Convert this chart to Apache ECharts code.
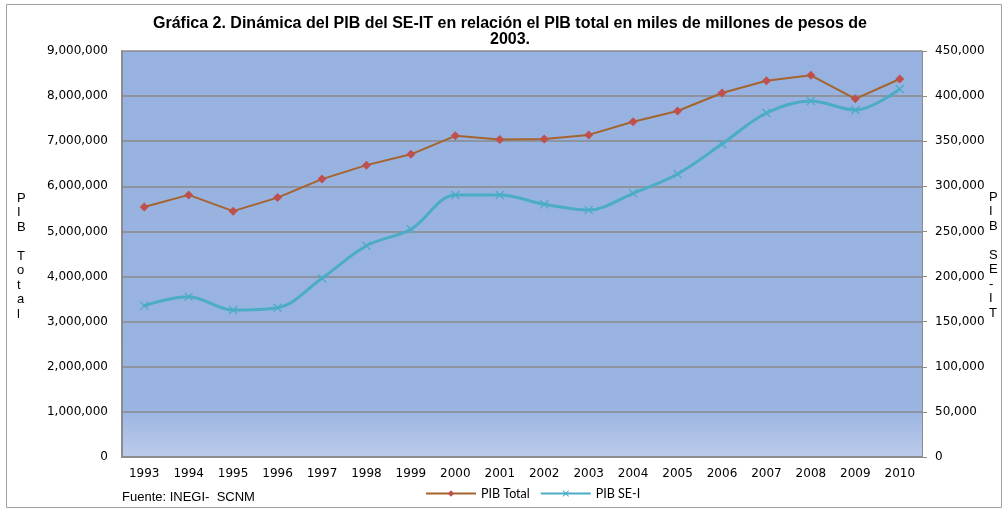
<!DOCTYPE html>
<html>
<head>
<meta charset="utf-8">
<script src="https://cdn.jsdelivr.net/npm/echarts@6/dist/echarts.min.js"></script>
<style>
  html, body { margin: 0; padding: 0; background: #fff; }
  #main { width: 1006px; height: 512px; }
</style>
</head>
<body>
<div id="main"></div>
<script>
// datos
var years = ['1993', '1994', '1995', '1996', '1997', '1998', '1999', '2000', '2001',
  '2002', '2003', '2004', '2005', '2006', '2007', '2008', '2009', '2010'];
var pibTotal = [5540000, 5810000, 5450000, 5750000, 6160000, 6470000, 6710000, 7120000, 7040000,
  7050000, 7140000, 7430000, 7670000, 8070000, 8340000, 8460000, 7940000, 8380000];
var pibSEIT = [167700, 177700, 162900, 165500, 198100, 234200, 252400, 290400, 290400,
  280100, 273800, 292300, 313700, 346900, 381300, 394600, 384600, 407900];

var chart = echarts.init(document.getElementById('main'));

function fmt(v) {
  return v.toLocaleString('en-US');
}

var xMark = 'path://M0,1L1,0L5,4L9,0L10,1L6,5L10,9L9,10L5,6L1,10L0,9L4,5Z';

var option = {
  animation: false,
  backgroundColor: '#fff',
  title: {
    text: 'Gráfica 2. Dinámica del PIB del SE-IT en relación el PIB total en miles de millones de pesos de\n2003.',
    left: 505,
    textAlign: 'center',
    top: 11,
    textStyle: {
      fontFamily: 'Liberation Sans',
      fontSize: 16,
      fontWeight: 'bold',
      color: '#000',
      lineHeight: 16
    }
  },
  grid: {
    left: 122,
    right: 84,
    top: 51,
    bottom: 55,
    show: true,
    borderWidth: 0,
    backgroundColor: {
      type: 'linear', x: 0, y: 0, x2: 0, y2: 1,
      colorStops: [
        { offset: 0, color: '#97b2e0' },
        { offset: 0.88, color: '#9ab4e1' },
        { offset: 1, color: '#bccbea' }
      ]
    }
  },
  legend: {
    data: ['PIB Total', 'PIB SE-I'],
    left: 420,
    top: 482,
    itemWidth: 50,
    itemHeight: 8,
    itemGap: 10,
    textStyle: { fontFamily: 'Lato', fontSize: 12.5, color: '#000' }
  },
  xAxis: {
    type: 'category',
    data: years,
    boundaryGap: true,
    axisLine: { lineStyle: { color: '#8c8c8c', width: 2 } },
    axisTick: { show: false },
    axisLabel: { color: '#000', fontFamily: 'DejaVu Sans', fontSize: 12, margin: 11 }
  },
  yAxis: [{
    type: 'value',
    min: 0,
    max: 9000000,
    interval: 1000000,
    axisLine: { show: true, lineStyle: { color: '#8c8c8c', width: 2 } },
    axisTick: { show: false },
    splitLine: { lineStyle: { color: '#8a8a8a', width: 1.5 } },
    axisLabel: { color: '#000', fontFamily: 'DejaVu Sans', fontSize: 12, margin: 14, formatter: fmt }
  }, {
    type: 'value',
    min: 0,
    max: 450000,
    interval: 50000,
    position: 'right',
    axisLine: { show: true, lineStyle: { color: '#8c8c8c', width: 1 } },
    axisTick: { show: true, length: 5, lineStyle: { color: '#8c8c8c' } },
    splitLine: { show: false },
    axisLabel: { color: '#000', fontFamily: 'DejaVu Sans', fontSize: 12, margin: 13, formatter: fmt }
  }],
  series: [{
    name: 'PIB Total',
    type: 'line',
    yAxisIndex: 0,
    data: pibTotal,
    symbol: 'diamond',
    symbolSize: 9,
    itemStyle: { color: '#c0504d' },
    lineStyle: { color: '#a5642d', width: 2 },
    z: 3
  }, {
    name: 'PIB SE-I',
    type: 'line',
    yAxisIndex: 1,
    data: pibSEIT,
    smooth: 0.35,
    symbol: xMark,
    symbolSize: 9,
    itemStyle: { color: '#4bacc6' },
    lineStyle: { color: '#4bacc6', width: 3 },
    z: 2
  }],
  graphic: [{
    type: 'rect',
    shape: { x: 6.5, y: 4.5, width: 995, height: 503 },
    style: { fill: 'none', stroke: '#a0a0a0', lineWidth: 1 },
    silent: true
  }, {
    type: 'text',
    left: 17,
    top: 191,
    style: {
      text: 'P\nI\nB\n\nT\no\nt\na\nl',
      fontFamily: 'Liberation Sans',
      fontSize: 13,
      lineHeight: 14.5,
      fill: '#000',
      align: 'center'
    }
  }, {
    type: 'text',
    left: 989,
    top: 190,
    style: {
      text: 'P\nI\nB\n\nS\nE\n-\nI\nT',
      fontFamily: 'Liberation Sans',
      fontSize: 13,
      lineHeight: 14.5,
      fill: '#000',
      align: 'center'
    }
  }, {
    type: 'text',
    left: 122,
    top: 491,
    style: {
      text: 'Fuente: INEGI-  SCNM',
      fontFamily: 'Liberation Sans',
      fontSize: 13,
      fill: '#000'
    }
  }]
};

chart.setOption(option);
</script>
</body>
</html>
